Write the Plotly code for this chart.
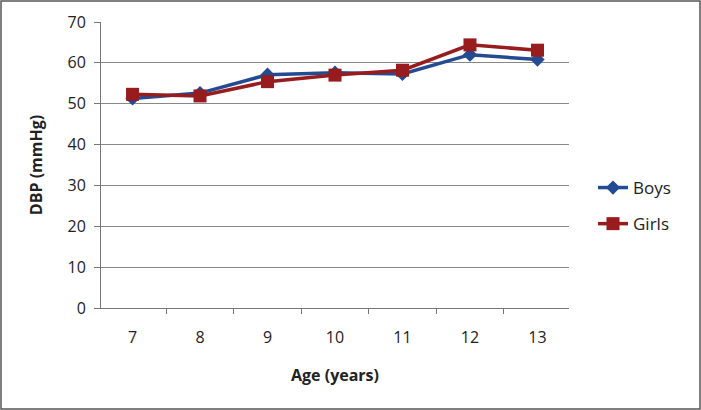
import plotly.graph_objects as go

ages = ["7", "8", "9", "10", "11", "12", "13"]
boys = [51.3, 52.6, 57.1, 57.6, 57.3, 62.0, 60.8]
girls = [52.3, 51.9, 55.4, 57.0, 58.2, 64.4, 63.1]
y_ticks = [0, 10, 20, 30, 40, 50, 60, 70]

FONT = "Open Sans"
fig = go.Figure()
fig.add_trace(go.Scatter(x=ages, y=boys, name="Boys", mode="lines+markers",
                         line=dict(color="#234A93", width=3.5),
                         marker=dict(symbol="diamond", size=11, color="#234A93"),
                         legendgroup="b"))
fig.add_trace(go.Scatter(x=ages, y=girls, name="Girls", mode="lines+markers",
                         line=dict(color="#981B1E", width=3.5),
                         marker=dict(symbol="square", size=13, color="#981B1E"),
                         legendgroup="g"))

W, H = 701, 410
L, R, T, B = 101, 132, 22, 102
pw, ph = W - L - R, H - T - B

fig.update_layout(
    width=W, height=H,
    margin=dict(l=L, r=R, t=T, b=B),
    paper_bgcolor="white", plot_bgcolor="white",
    font=dict(family=FONT, size=16, color="#222"),
    legend=dict(x=(593 - L) / pw, y=(308 - 206) / ph, xanchor="left", yanchor="middle",
                font=dict(size=17, family=FONT, color="#222"), tracegroupgap=11,
                bgcolor="rgba(0,0,0,0)"),
    xaxis=dict(type="category", tickson="boundaries", ticks="outside", ticklen=5,
               tickcolor="#777", showline=True, linecolor="#777", linewidth=1,
               showgrid=False, tickfont=dict(size=16), ticklabelstandoff=15,
               title=dict(text="<b>Age (years)</b>", font=dict(size=16), standoff=22)),
    yaxis=dict(range=[0, 70], tickvals=y_ticks, ticks="outside", ticklen=6,
               tickcolor="#777", showline=True, linecolor="#777", linewidth=1,
               showgrid=True, gridcolor="#888", gridwidth=1, zeroline=False,
               tickfont=dict(size=16), ticklabelstandoff=5,
               title=dict(text="<b>DBP (mmHg)</b>", font=dict(size=16), standoff=20)),
    shapes=[dict(type="rect", xref="paper", yref="paper",
                 x0=(1 - L) / pw, x1=(W - 1 - L) / pw,
                 y0=(H - B - (H - 1)) / ph, y1=(H - B - 1) / ph,
                 line=dict(color="#555", width=1.5), fillcolor="rgba(0,0,0,0)")],
)
fig.write_html("out.html", config={"displayModeBar": False},
               post_script="document.body.style.margin='0';document.body.style.overflow='hidden';")
